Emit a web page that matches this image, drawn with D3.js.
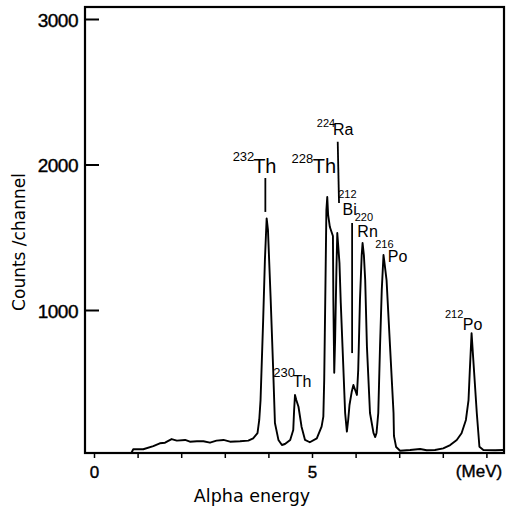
<!DOCTYPE html>
<html>
<head>
<meta charset="utf-8">
<script src="https://cdn.jsdelivr.net/npm/d3@7"></script>
<style>
  body { margin: 0; background: #fff; }
  svg { display: block; }
</style>
</head>
<body>
<main></main>
<script>
// alpha spectrum, energy in MeV and counts per channel
const energy = [0.86, 0.90, 1.13, 1.36, 1.51, 1.63, 1.78, 1.90, 2.09, 2.20, 2.36, 2.51, 2.66, 2.81, 2.97, 3.12, 3.35, 3.54, 3.65, 3.75, 3.79, 3.82,
  3.88, 3.92, 3.96, 3.99, 4.05, 4.11, 4.15, 4.23, 4.31, 4.38, 4.50, 4.57, 4.59, 4.61, 4.64, 4.69, 4.76, 4.84, 4.95, 5.11, 5.22, 5.26, 5.28, 5.31, 5.33, 5.35,
  5.37, 5.41, 5.48, 5.49, 5.51, 5.53, 5.56, 5.58, 5.63, 5.66, 5.70, 5.76, 5.80, 5.83, 5.86, 5.91, 5.95, 5.99, 6.03, 6.06, 6.10, 6.14, 6.16, 6.19, 6.22, 6.26,
  6.33, 6.41, 6.45, 6.48, 6.52, 6.56, 6.60, 6.64, 6.66, 6.71, 6.79, 6.87, 6.88, 6.93, 7.02, 7.25, 7.48, 7.63, 7.82, 8.01, 8.17, 8.32, 8.43, 8.53, 8.59, 8.62,
  8.66, 8.70, 8.78, 8.84, 8.93, 9.20, 9.40];
const counts = [19, 43, 43, 65, 84, 88, 113, 102, 107, 95, 98, 98, 88, 102, 107, 95, 98, 102, 118, 153, 244, 381,
  931, 1344, 1630, 1550, 1091, 588, 223, 107, 72, 79, 107, 175, 313, 416, 381, 335, 198, 107, 91, 118, 198, 267, 519, 1206, 1687, 1777,
  1653, 1570, 1509, 1069, 569, 794, 1275, 1529, 1323, 1048, 748, 292, 164, 244, 347, 436, 485, 450, 416, 588, 1069, 1378, 1460, 1378, 1206, 748,
  292, 155, 127, 155, 292, 748, 1137, 1378, 1330, 1206, 748, 292, 134, 58, 33, 38, 45, 36, 38, 49, 72, 107, 153, 244, 381, 588,
  840, 656, 290, 60, 38, 36, 38];

const xTicks = [0, 1, 2, 3, 4, 5, 6, 7, 8, 9];
const xTickLabels = ["0", "", "", "", "", "5", "", "", "", ""];
const yTicks = [1000, 2000, 3000];

// nuclide labels: mass number and symbol, with their anchors in data units
const massNumbers = ["232", "228", "224", "212", "220", "216", "230", "212"];
const symbols = ["Th", "Th", "Ra", "Bi", "Rn", "Po", "Th", "Po"];
const massE = [3.18, 4.53, 5.11, 5.60, 5.98, 6.45, 4.11, 8.05];
const massC = [2021, 2010, 2258, 1772, 1614, 1426, 542, 945];
const symE = [3.65, 5.02, 5.48, 5.70, 6.04, 6.74, 4.56, 8.46];
const symC = [1942, 1942, 2203, 1653, 1504, 1332, 473, 863];

// marker lines from labels down to peaks
const markerE1 = [3.93, 5.59, 5.92];
const markerE2 = [3.93, 5.62, 5.92];
const markerC1 = [1907, 2157, 1598];
const markerC2 = [1674, 1735, 704];

const width = 507;
const height = 509;
const frame = { left: 85, top: 7, right: 504, bottom: 453 };

const xScale = d3.scaleLinear().domain([0, 9]).range([94, 486.4]);
const yScale = d3.scaleLinear().domain([0, 3000]).range([455.5, 19]);

const svg = d3.select("main")
  .append("svg")
  .attr("width", width)
  .attr("height", height);

// frame
svg.append("rect")
  .attr("x", frame.left)
  .attr("y", frame.top)
  .attr("width", frame.right - frame.left)
  .attr("height", frame.bottom - frame.top)
  .attr("fill", "none")
  .attr("stroke", "#000")
  .attr("stroke-width", 2.2);

// y axis, ticks pointing inward
const yAxis = d3.axisLeft(yScale)
  .tickValues(yTicks)
  .tickSizeInner(-14)
  .tickSizeOuter(0)
  .tickPadding(7)
  .tickFormat(d => d);

const gy = svg.append("g")
  .attr("transform", `translate(${frame.left}, 0)`)
  .call(yAxis);
gy.select(".domain").remove();
gy.selectAll("line").attr("stroke", "#000").attr("stroke-width", 2);
gy.selectAll("text")
  .attr("fill", "#000")
  .attr("dy", "0.38em")
  .style("font-family", "Liberation Sans, Arial, sans-serif")
  .style("font-size", "19px")
  .style("letter-spacing", "-0.5px")
  .style("stroke", "#000")
  .style("stroke-width", 0.4);

// x axis, short ticks below
const xAxis = d3.axisBottom(xScale)
  .tickValues(xTicks)
  .tickSizeInner(5)
  .tickSizeOuter(0)
  .tickPadding(8)
  .tickFormat((d, i) => xTickLabels[i]);

const gx = svg.append("g")
  .attr("transform", `translate(0, ${frame.bottom})`)
  .call(xAxis);
gx.select(".domain").remove();
gx.selectAll("line").attr("stroke", "#000").attr("stroke-width", 1.5);
gx.selectAll("text")
  .attr("fill", "#000")
  .style("font-family", "Liberation Sans, Arial, sans-serif")
  .style("font-size", "17px")
  .style("stroke", "#000")
  .style("stroke-width", 0.4);

svg.append("text")
  .attr("x", 479)
  .attr("y", 477)
  .attr("text-anchor", "middle")
  .style("font-family", "Liberation Sans, Arial, sans-serif")
  .style("font-size", "17px")
  .style("stroke", "#000")
  .style("stroke-width", 0.4)
  .text("(MeV)");

// axis titles
svg.append("text")
  .attr("x", 252)
  .attr("y", 502)
  .attr("text-anchor", "middle")
  .style("font-family", "DejaVu Sans, sans-serif")
  .style("font-size", "17.5px")
  .text("Alpha energy");

svg.append("text")
  .attr("transform", "translate(25, 242) rotate(-90)")
  .attr("text-anchor", "middle")
  .style("font-family", "DejaVu Sans, sans-serif")
  .style("font-size", "17px")
  .text("Counts /channel");

// spectrum
const spectrum = energy.map((e, i) => [e, counts[i]]);
const line = d3.line()
  .x(d => xScale(d[0]))
  .y(d => yScale(d[1]));

svg.append("path")
  .datum(spectrum)
  .attr("d", line)
  .attr("fill", "none")
  .attr("stroke", "#000")
  .attr("stroke-width", 1.9)
  .attr("stroke-linejoin", "round");

// marker lines
svg.selectAll(".marker")
  .data(markerE1)
  .enter()
  .append("line")
  .attr("class", "marker")
  .attr("x1", (d, i) => xScale(markerE1[i]))
  .attr("x2", (d, i) => xScale(markerE2[i]))
  .attr("y1", (d, i) => yScale(markerC1[i]))
  .attr("y2", (d, i) => yScale(markerC2[i]))
  .attr("stroke", "#000")
  .attr("stroke-width", 1.8);

// nuclide labels (the two big Th labels are larger)
const big = i => i < 2;
const massSize = (i) => big(i) || i === 6 ? 13 : 11;
const symSize = (i) => big(i) ? 20 : 16;

svg.selectAll(".mass")
  .data(massNumbers)
  .enter()
  .append("text")
  .attr("class", "mass")
  .attr("x", (d, i) => xScale(massE[i]))
  .attr("y", (d, i) => yScale(massC[i]))
  .style("font-family", "Liberation Sans, Arial, sans-serif")
  .style("font-size", (d, i) => massSize(i) + "px")
  .text(d => d);

svg.selectAll(".sym")
  .data(symbols)
  .enter()
  .append("text")
  .attr("class", "sym")
  .attr("x", (d, i) => xScale(symE[i]))
  .attr("y", (d, i) => yScale(symC[i]))
  .style("font-family", "Liberation Sans, Arial, sans-serif")
  .style("font-size", (d, i) => symSize(i) + "px")
  .text(d => d);
</script>
</body>
</html>
